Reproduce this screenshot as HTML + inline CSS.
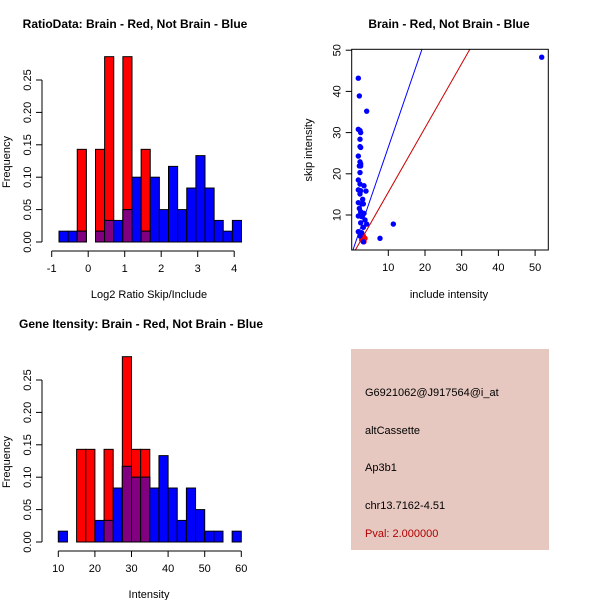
<!DOCTYPE html>
<html><head><meta charset="utf-8"><style>
body{margin:0;background:#fff}
svg{display:block;font-family:"Liberation Sans",sans-serif}
</style></head><body>
<svg id="chart" width="600" height="600" viewBox="0 0 600 600" xmlns="http://www.w3.org/2000/svg"></svg>
<script>
// ---- Ratio histogram data ----
const ratioBinStart = -0.8;
const ratioBinWidth = 0.25;
const ratioBlue = [0.0167,0.0167,0.0167,0,0.0167,0.0333,0.0333,0.05,0.1,0.0167,0.1,0.05,0.1167,0.05,0.0833,0.1333,0.0833,0.0333,0.0167,0.0333];
const ratioRed  = [0,0,0.143,0,0.143,0.286,0,0.286,0,0.143,0,0,0,0,0,0,0,0,0,0];
const ratioXTicks = [-1,0,1,2,3,4];
const freqTicks = [0,0.05,0.10,0.15,0.20,0.25];
const freqTickLabels = ["0.00","0.05","0.10","0.15","0.20","0.25"];
// ---- Intensity histogram data ----
const intBinStart = 10;
const intBinWidth = 2.5;
const intBlue = [0.0167,0,0,0,0.0333,0.0333,0.0833,0.1167,0.1,0.1,0.0833,0.1333,0.0833,0.0333,0.0833,0.05,0.0167,0.0167,0,0.0167];
const intRed  = [0,0,0.143,0.143,0,0.143,0,0.286,0.143,0.143,0,0,0,0,0,0,0,0,0,0];
const intXTicks = [10,20,30,40,50,60];
// ---- Scatter data ----
const blueX = [1.83,2.11,4.11,1.83,2.29,2.47,2.29,2.29,2.47,1.83,2.29,2.47,2.11,2.47,2.29,1.83,2.29,3.38,1.83,2.47,3.92,2.29,3.02,1.83,2.74,3.2,2.11,2.47,3.38,1.83,2.74,3.65,2.47,4.11,3.2,11.37,1.83,2.74,7.74,2.29,3.2,51.8];
const blueY = [43.2,38.9,35.2,30.8,30.5,30,28.4,26.6,26.4,24.3,22.9,22.4,21.9,21.9,20.3,18.5,17.5,17.1,16.1,15.9,15.8,15.1,13.8,13.0,12.7,12.7,11.6,10.8,10.4,9.76,9.6,8.8,8.1,7.8,7.0,7.8,5.95,5.7,4.34,4.9,3.5,48.3];
const redX = [3.2,3.38,2.74,3.65];
const redY = [4.9,3.5,3.93,4.34];
const scatterXTicks = [10,20,30,40,50];
const scatterYTicks = [10,20,30,40,50];
const blueLine = {slope:2.59, intercept:0.56};
const redLine = {slope:1.562, intercept:-0.1};
const infoLines = ["G6921062@J917564@i_at","altCassette","Ap3b1","chr13.7162-4.51"];
const pvalText = "Pval: 2.000000";

const svg = document.getElementById('chart');
const NS = 'http://www.w3.org/2000/svg';
function mk(tag, attrs, parent){
  const e = document.createElementNS(NS, tag);
  for (const k in attrs) e.setAttribute(k, attrs[k]);
  (parent||svg).appendChild(e);
  return e;
}
function txt(s, x, y, attrs, parent){
  const t = mk('text', Object.assign({x:x, y:y, 'font-size':11, fill:'#000'}, attrs||{}), parent);
  t.textContent = s;
  return t;
}

function histogram(name, opt){
  const g = mk('g', {});
  
  
  const sx = v => opt.x0px + (v - opt.x0) * opt.xs;
  const sy = v => opt.y0px - v * opt.ys;
  const n = opt.blue.length;
  for (let i=0;i<n;i++){
    const a = opt.start + i*opt.width, b = a + opt.width;
    const r = opt.red[i], bl = opt.blue[i];
    const x = sx(a), w = sx(b) - sx(a);
    if (r > 0){
      const el = mk('rect', {x:x, y:sy(r), width:w, height:sy(0)-sy(r), fill:'#ff0000', stroke:'#000', 'stroke-width':1}, g);
      
      
    }
    if (bl > 0){
      const el = mk('rect', {x:x, y:sy(bl), width:w, height:sy(0)-sy(bl), fill:'#0000ff', stroke:'#000', 'stroke-width':1}, g);
      
      
    }
    const m = Math.min(r, bl);
    if (m > 0){
      const el = mk('rect', {x:x, y:sy(m), width:w, height:sy(0)-sy(m), fill:'#800080', stroke:'#000', 'stroke-width':1}, g);
      
      
    }
  }
  const xa = mk('g', {}, g);
  
  
  const t0 = opt.xticks[0], t1 = opt.xticks[opt.xticks.length-1];
  mk('line', {x1:sx(t0), x2:sx(t1), y1:opt.axisY, y2:opt.axisY, stroke:'#000'}, xa);
  opt.xticks.forEach(t=>{
    mk('line', {x1:sx(t), x2:sx(t), y1:opt.axisY, y2:opt.axisY+6, stroke:'#000'}, xa);
    txt(String(t), sx(t), opt.axisY+21, {'text-anchor':'middle'}, xa);
  });
  const ya = mk('g', {}, g);
  
  
  mk('line', {x1:opt.axisX, x2:opt.axisX, y1:sy(freqTicks[0]), y2:sy(freqTicks[freqTicks.length-1]), stroke:'#000'}, ya);
  freqTicks.forEach((t,i)=>{
    mk('line', {x1:opt.axisX, x2:opt.axisX-6, y1:sy(t), y2:sy(t), stroke:'#000'}, ya);
    txt(freqTickLabels[i], opt.axisX-11, sy(t), {'text-anchor':'middle', transform:`rotate(-90 ${opt.axisX-11} ${sy(t)})`}, ya);
  });
  const yl = txt('Frequency', 10, opt.ylabelY, {'text-anchor':'middle', transform:`rotate(-90 10 ${opt.ylabelY})`}, g);
  
  
  const xl = txt(opt.xlabel, opt.xlabelX, opt.xlabelY, {'text-anchor':'middle'}, g);
  
  
  const ti = txt(opt.title, opt.titleX, opt.titleY, {'text-anchor':'middle', 'font-weight':'bold', 'font-size':12}, g);
  
  
}

histogram('ratio-histogram', {start:ratioBinStart, width:ratioBinWidth, blue:ratioBlue, red:ratioRed,
  x0:-1, x0px:51.7, xs:36.5, y0px:242, ys:648, axisY:251, axisX:42, xticks:ratioXTicks,
  ylabelY:162, xlabel:'Log2 Ratio Skip/Include', xlabelX:149, xlabelY:298,
  title:'RatioData: Brain - Red, Not Brain - Blue', titleX:135, titleY:28});
histogram('intensity-histogram', {start:intBinStart, width:intBinWidth, blue:intBlue, red:intRed,
  x0:10, x0px:58.3, xs:3.66, y0px:542, ys:648, axisY:551, axisX:42, xticks:intXTicks,
  ylabelY:462, xlabel:'Intensity', xlabelX:149, xlabelY:598,
  title:'Gene Itensity: Brain - Red, Not Brain - Blue', titleX:141, titleY:328});

(function(){
  const g = mk('g', {});
  
  
  const sx = v => 388.3 + (v-10)*3.67;
  const sy = v => 215 - (v-10)*4.12;
  const L=351.7, R=548.3, T=49.3, B=250;
  const clip = mk('clipPath', {id:'sc'}, g);
  mk('rect', {x:L, y:T, width:R-L, height:B-T}, clip);
  const lines = mk('g', {'clip-path':'url(#sc)'}, g);
  [[blueLine,'#0000ff','blue-fit-line'],[redLine,'#cc0000','red-fit-line']].forEach(([ln,c,nm])=>{
    const xa = -5, xb = 60;
    const el = mk('line', {x1:sx(xa), y1:sy(ln.slope*xa+ln.intercept), x2:sx(xb), y2:sy(ln.slope*xb+ln.intercept), stroke:c, 'stroke-width':1}, lines);
    
    
  });
  redX.forEach((x,i)=>{
    const p = mk('circle', {cx:sx(x), cy:sy(redY[i]), r:2.7, fill:'#ff0000'}, g);
    
    
  });
  blueX.forEach((x,i)=>{
    const p = mk('circle', {cx:sx(x), cy:sy(blueY[i]), r:2.7, fill:'#0000ff'}, g);
    
    
  });
  mk('rect', {x:L, y:T, width:R-L, height:B-T, fill:'none', stroke:'#000'}, g);
  const xa = mk('g', {}, g);
  
  
  scatterXTicks.forEach(t=>{
    mk('line', {x1:sx(t), x2:sx(t), y1:B, y2:B+6, stroke:'#000'}, xa);
    txt(String(t), sx(t), B+21, {'text-anchor':'middle'}, xa);
  });
  const ya = mk('g', {}, g);
  
  
  scatterYTicks.forEach(t=>{
    mk('line', {x1:L, x2:L-6, y1:sy(t), y2:sy(t), stroke:'#000'}, ya);
    txt(String(t), L-11, sy(t), {'text-anchor':'middle', transform:`rotate(-90 ${L-11} ${sy(t)})`}, ya);
  });
  const yl = txt('skip intensity', 312, 150, {'text-anchor':'middle', transform:'rotate(-90 312 150)'}, g);
  
  
  const xl = txt('include intensity', 449, 298, {'text-anchor':'middle'}, g);
  
  
  const ti = txt('Brain - Red, Not Brain - Blue', 449, 28, {'text-anchor':'middle', 'font-weight':'bold', 'font-size':12}, g);
  
  
})();

(function(){
  const g = mk('g', {});
  
  
  mk('rect', {x:351, y:349, width:198, height:201, fill:'#e6c8c0'}, g);
  const ys = [396, 434, 471, 509];
  infoLines.forEach((s,i)=>{
    const t = txt(s, 365, ys[i], {}, g);
    
    
  });
  const p = txt(pvalText, 365, 537, {fill:'#b00000'}, g);
  
  
})();
</script>
</body></html>
